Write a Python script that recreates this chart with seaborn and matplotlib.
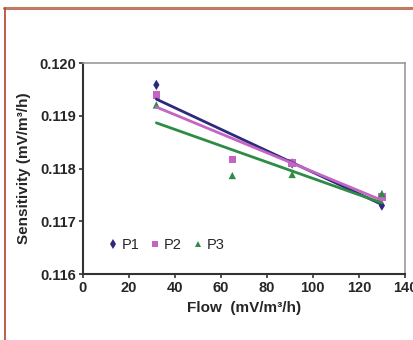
import matplotlib
matplotlib.use("Agg")
import matplotlib.pyplot as plt
import seaborn as sns
import pandas as pd
from matplotlib.lines import Line2D

# ---- data ----
series_names = ["P1", "P2", "P3"]
p1_flow = [32, 91, 130]
p1_sens = [0.11959, 0.1181, 0.11730]
p2_flow = [32, 65, 91, 130]
p2_sens = [0.11940, 0.11817, 0.11811, 0.11746]
p3_flow = [32, 65, 91, 130]
p3_sens = [0.11921, 0.11787, 0.11789, 0.11753]
# linear trendlines (end values)
trend_flow = [32, 130]
trend_p1 = [0.11932, 0.11732]
trend_p2 = [0.11917, 0.11740]
trend_p3 = [0.11887, 0.11735]

x_ticks = [0, 20, 40, 60, 80, 100, 120, 140]
y_ticks = [0.116, 0.117, 0.118, 0.119, 0.120]

colors = {"P1": "#2d2a7c", "P2": "#c465c4", "P3": "#2e8c45"}
markers = {"P1": "d", "P2": "s", "P3": "^"}

pts = pd.DataFrame({
    "Flow": p1_flow + p2_flow + p3_flow,
    "Sens": p1_sens + p2_sens + p3_sens,
    "Series": ["P1"] * len(p1_flow) + ["P2"] * len(p2_flow) + ["P3"] * len(p3_flow),
})
trend = pd.DataFrame({
    "Flow": trend_flow * 3,
    "Sens": trend_p1 + trend_p2 + trend_p3,
    "Series": ["P1"] * 2 + ["P2"] * 2 + ["P3"] * 2,
})

sns.set_style("white")
plt.rcParams["font.family"] = ["Liberation Sans", "DejaVu Sans"]

fig = plt.figure(figsize=(4.14, 3.40), dpi=100)
ax = fig.add_axes([0.1998, 0.194, 0.978 - 0.1998, 0.8138 - 0.194])

sns.scatterplot(data=pts, x="Flow", y="Sens", hue="Series", style="Series",
                palette=colors, markers=markers, s=28, linewidth=0,
                hue_order=series_names, style_order=series_names, ax=ax, zorder=2)
sns.lineplot(data=trend, x="Flow", y="Sens", hue="Series", palette=colors,
             hue_order=series_names, linewidth=2.0, legend=False, ax=ax, zorder=3)

ax.set_xlim(0, 140)
ax.set_ylim(0.116, 0.120)
ax.set_xticks(x_ticks)
ax.set_yticks(y_ticks)
ax.set_xticklabels([str(t) for t in x_ticks], fontsize=10.5, fontweight="bold")
ax.set_yticklabels([f"{t:.3f}" for t in y_ticks], fontsize=10.5, fontweight="bold")
ax.tick_params(axis="both", direction="out", length=3, width=1.2, color="#333333",
               pad=2, left=True, bottom=True)

ax.set_xlabel("Flow  (mV/m³/h)", fontsize=11, fontweight="bold", labelpad=4)
ax.set_ylabel("Sensitivity (mV/m³/h)", fontsize=11, fontweight="bold", labelpad=6)

for side in ["left", "bottom"]:
    ax.spines[side].set_color("#333333")
    ax.spines[side].set_linewidth(1.5)
for side in ["top", "right"]:
    ax.spines[side].set_color("#9a9a9a")
    ax.spines[side].set_linewidth(1.2)

handles, labels = ax.get_legend_handles_labels()
ax.legend(handles, labels, loc="lower left", bbox_to_anchor=(0.03, 0.04), ncol=3,
          frameon=False, handletextpad=0.1, columnspacing=0.6, handlelength=1.0,
          fontsize=10.5, markerscale=0.9)

# decorative page frame
fig.add_artist(Line2D([0.01, 1.0], [1 - 7.5 / 340, 1 - 7.5 / 340], color="#c07a62", lw=2.2))
fig.add_artist(Line2D([5.5 / 414, 5.5 / 414], [0, 1 - 7.5 / 340], color="#b8503e", lw=1.3))

fig.savefig("out.png", dpi=100)
